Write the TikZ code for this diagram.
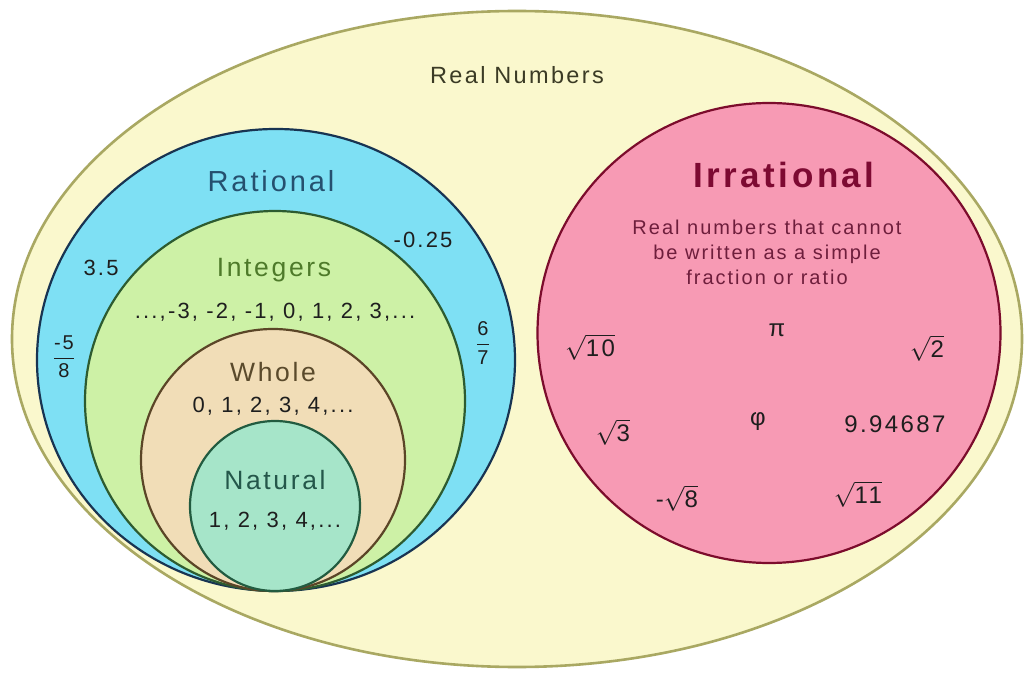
\documentclass[tikz,border=0pt]{standalone}
\usepackage{fontspec}
\setmainfont{Liberation Sans}[LetterSpace=10]
\usepackage{amsmath}
\usepackage{tikz}
\usetikzlibrary{shapes.geometric}
\definecolor{RealFill}{HTML}{FAF8CD}
\definecolor{RealEdge}{HTML}{A9A862}
\definecolor{RealText}{HTML}{3B3B25}
\definecolor{RatFill}{HTML}{7EE0F4}
\definecolor{RatEdge}{HTML}{183452}
\definecolor{RatText}{HTML}{25506F}
\definecolor{IntFill}{HTML}{CDF1A6}
\definecolor{IntEdge}{HTML}{2D5B30}
\definecolor{IntText}{HTML}{4E7A2A}
\definecolor{WholeFill}{HTML}{F1DDB7}
\definecolor{WholeEdge}{HTML}{5B4527}
\definecolor{WholeText}{HTML}{5A4A2C}
\definecolor{NatFill}{HTML}{A6E5C9}
\definecolor{NatEdge}{HTML}{225B40}
\definecolor{NatText}{HTML}{24574A}
\definecolor{IrrFill}{HTML}{F79AB4}
\definecolor{IrrEdge}{HTML}{7C0C2C}
\definecolor{IrrText}{HTML}{7D0A32}
\definecolor{IrrSub}{HTML}{6E1E3C}
\definecolor{NumText}{HTML}{1E1E1E}
\newcommand{\rad}[1]{$\sqrt{\mbox{#1}}$}
\newcommand{\fr}[2]{$\displaystyle\frac{\mbox{#1}}{\mbox{#2}}$}
\tikzset{
  setnode/.style={ellipse,inner sep=0pt,line width=2.2pt},
  title/.style={font=\fontsize{26.5}{30}\selectfont,inner sep=0pt},
  nums/.style={font=\fontsize{22}{26}\selectfont,text=NumText,inner sep=0pt},
  irrnum/.style={font=\fontsize{24}{28}\selectfont,text=NumText,inner sep=0pt},
}
\begin{document}
\begin{tikzpicture}[x=1pt,y=-1pt]
  \useasboundingbox[fill=white] (0,0) rectangle (1026,676);
  % Sets
  \node[setnode,draw=RealEdge,fill=RealFill,line width=2.6pt,
    minimum width=1010pt,minimum height=656pt] (real) at (517,339) {};
  \node[setnode,draw=RatEdge,fill=RatFill,
    minimum width=478pt,minimum height=462pt] (rational) at (276,360) {};
  \node[setnode,draw=IntEdge,fill=IntFill,
    minimum width=380pt,minimum height=380pt] (integers) at (275,401) {};
  \node[setnode,draw=WholeEdge,fill=WholeFill,
    minimum width=264pt,minimum height=262pt] (whole) at (273,460) {};
  \node[setnode,draw=NatEdge,fill=NatFill,
    minimum width=170pt,minimum height=170pt] (natural) at (275,506) {};
  \node[setnode,draw=IrrEdge,fill=IrrFill,
    minimum width=463pt,minimum height=460pt] (irrational) at (769,333) {};
  % Titles
  \node[title,font=\fontsize{23.5}{28}\selectfont,text=RealText] (realT) at (517,75) {Real Numbers};
  \node[title,font=\fontsize{29}{34}\selectfont,text=RatText] (ratT) at (271,181) {Rational};
  \node[title,text=IntText] (intT) at (274,270) {Integers};
  \node[title,text=WholeText] (wholeT) at (273,372) {Whole};
  \node[title,text=NatText] (natT) at (275,480) {Natural};
  \node[title,font=\fontsize{35}{40}\selectfont\bfseries,text=IrrText] (irrT) at (784,175) {Irrational};
  % Rational members
  \node[nums] (r1) at (101,268) {3.5};
  \node[nums] (r2) at (423,240) {-0.25};
  \node[nums,font=\fontsize{20}{24}\selectfont] (r3) at (64,357) {\fr{-5}{8}};
  \node[nums,font=\fontsize{20}{24}\selectfont] (r4) at (483,343) {\fr{6}{7}};
  \node[nums] (intN) at (275,312) {...,-3, -2, -1, 0, 1, 2, 3,...};
  \node[nums] (wholeN) at (273,406) {0, 1, 2, 3, 4,...};
  \node[nums] (natN) at (275,521) {1, 2, 3, 4,...};
  % Irrational members
  \node[font=\fontsize{20}{25}\selectfont,text=IrrSub,align=center,inner sep=0pt]
    (irrD) at (767,252) {Real numbers that cannot\\be written as a simple\\fraction or ratio};
  \node[irrnum] (i1) at (590,347) {\rad{10}};
  \node[irrnum] (i2) at (777,330) {π};
  \node[irrnum] (i3) at (927,348) {\rad{2}};
  \node[irrnum] (i4) at (613,432) {\rad{3}};
  \node[irrnum] (i5) at (758,422) {φ};
  \node[irrnum] (i6) at (895,424) {9.94687};
  \node[irrnum] (i7) at (677,498) {-\rad{8}};
  \node[irrnum] (i8) at (858,494) {\rad{11}};
\end{tikzpicture}
\end{document}
